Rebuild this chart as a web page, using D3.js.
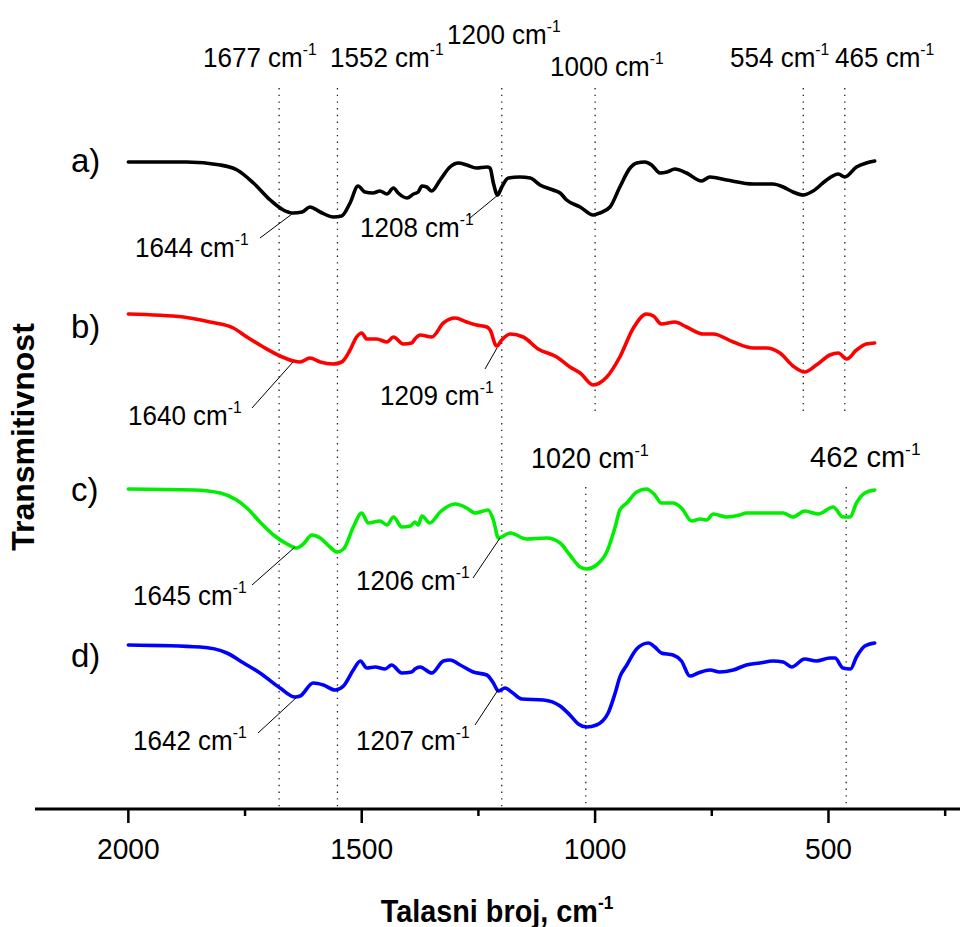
<!DOCTYPE html>
<html><head><meta charset="utf-8">
<script src="https://cdn.jsdelivr.net/npm/d3@7"></script>
<style>body{margin:0;background:#fff}svg{display:block}text{font-family:"Liberation Sans",Arial,sans-serif;fill:#000}</style>
</head><body><svg id="c" width="960" height="927"></svg>
<script>
// ---- data (wavenumber cm-1, transmittance in arbitrary offset units) ----
const waveA = [2000,1875,1803,1767,1732,1696,1668,1647,1628,1611,1589,1561,1543,1525,1508,1493,1476,1461,1446,1432,1422,1403,1389,1379,1371,1361,1350,1332,1311,1293,1275,1254,1232,1225,1218,1209,1200,1186,1161,1139,1118,1090,1075,1061,1032,1004,990,968,947,925,911,893,879,861,846,829,804,772,754,718,661,619,597,576,554,533,504,479,465,440,419,401];
const transA = [658,658,655,650,637,620,610,607,608,613,608,603,604,617,634,628,627,629,626,632,627,622,626,628,634,633,629,640,653,657,655,652,653,652,637,625,633,642,643,642,635,630,627,620,613,605,607,613,633,652,657,658,655,647,648,651,647,639,643,640,636,636,633,628,625,629,640,646,643,653,657,659];
const waveB = [2000,1882,1825,1775,1746,1711,1675,1646,1632,1611,1589,1561,1543,1525,1511,1500,1489,1468,1446,1432,1411,1393,1386,1375,1350,1325,1300,1275,1254,1232,1225,1211,1200,1182,1154,1122,1082,1054,1032,1004,975,947,918,890,875,858,829,804,768,747,704,661,633,604,576,551,526,497,479,461,440,419,401];
const transB = [506,503,498,492,483,473,464,459,458,462,458,456,458,470,483,487,481,481,478,483,476,477,481,485,483,497,502,498,495,493,490,474,480,486,483,471,463,453,447,435,443,463,492,506,504,496,498,493,486,486,478,472,472,467,454,448,455,465,467,461,470,476,477];
const waveC = [2000,1860,1803,1768,1746,1718,1689,1660,1639,1625,1607,1589,1568,1553,1539,1518,1500,1486,1461,1446,1432,1414,1396,1386,1379,1371,1354,1332,1300,1275,1257,1229,1218,1207,1182,1147,1104,1075,1054,1032,1018,997,975,957,947,932,911,890,872,858,833,815,793,775,761,747,718,690,676,640,597,576,551,522,490,469,454,440,422,401];
const transC = [331,330,327,320,312,298,285,276,272,276,285,282,273,268,271,293,307,297,299,295,303,293,294,298,295,304,297,308,316,312,307,310,300,282,287,281,282,277,265,253,251,255,268,293,310,317,328,331,325,317,317,312,299,301,300,306,303,305,307,307,307,303,309,306,313,303,303,317,327,330];
const waveD = [2000,1846,1789,1753,1718,1675,1643,1632,1604,1582,1557,1539,1518,1503,1489,1471,1450,1436,1414,1393,1386,1375,1350,1325,1311,1289,1261,1232,1218,1207,1193,1179,1157,1111,1075,1054,1036,1018,997,972,957,947,932,911,886,872,858,833,815,797,779,754,733,704,676,647,619,597,579,551,526,497,486,469,453,440,422,401];
const transD = [175,173,167,157,147,132,123,124,137,135,130,134,150,159,152,153,151,155,147,148,151,153,147,159,160,155,148,145,137,129,132,128,121,120,114,105,96,93,95,107,127,143,155,171,177,173,167,165,159,144,147,150,148,150,155,157,159,158,153,161,159,162,162,152,151,163,174,177];
const seriesNames = ["a)","b)","c)","d)"];
const seriesColors = ["#000000","#ff0000","#00ee00","#0000ff"];
const xTicksMajor = [2000,1500,1000,500];
const xTicksMinor = [1750,1250,750,250];
const topMarks = [1677,1552,1200,1000,554,465];
const lowMarks = [1020,462];
const peakA = [1644,1208], peakB = [1640,1209], peakC = [1645,1206], peakD = [1642,1207];

// ---- layout ----
const svg = d3.select("#c");
const x = d3.scaleLinear().domain([2200,200]).range([35,968.5]);
const y = d3.scaleLinear().domain([0,820]).range([820,0]);
const axisY = 809;

function supText(g, px, py, main, sup, size, sx, weight, anchor){
  const t = g.append("text").attr("transform",`translate(${px},${py}) scale(${sx},1)`)
    .attr("font-size",size).attr("font-weight",weight||"normal").attr("text-anchor",anchor||"start");
  t.append("tspan").text(main);
  if(sup) t.append("tspan").attr("font-size",size*0.6).attr("dy",-size*0.42).text(sup);
  return t;
}

// dotted marker lines
const dot = svg.append("g").attr("stroke","#222").attr("stroke-width",1.3).attr("stroke-dasharray","1.4,5.3");
const topEnds = {1677:axisY,1552:axisY,1200:axisY,1000:412,554:412,465:412};
topMarks.forEach(w=>dot.append("line").attr("x1",x(w)).attr("x2",x(w)).attr("y1",88).attr("y2",topEnds[w]));
lowMarks.forEach(w=>dot.append("line").attr("x1",x(w)).attr("x2",x(w)).attr("y1",487).attr("y2",axisY));

// curves
const waves=[waveA,waveB,waveC,waveD], trans=[transA,transB,transC,transD];
const line = d3.line().x(d=>x(d[0])).y(d=>y(d[1])).curve(d3.curveMonotoneX);
waves.forEach((w,i)=>{
  svg.append("path").datum(w.map((v,j)=>[v,trans[i][j]]))
    .attr("d",line).attr("fill","none").attr("stroke",seriesColors[i])
    .attr("stroke-width",3.6).attr("stroke-linejoin","round").attr("stroke-linecap","round");
});

// x axis
const ax = svg.append("g").attr("transform",`translate(0,${axisY})`);
ax.append("line").attr("x1",35).attr("x2",960).attr("stroke","#000").attr("stroke-width",3);
ax.selectAll(".mj").data(xTicksMajor).join("line").attr("x1",d=>x(d)).attr("x2",d=>x(d)).attr("y1",0).attr("y2",14).attr("stroke","#000").attr("stroke-width",2.5);
ax.selectAll(".mn").data(xTicksMinor).join("line").attr("x1",d=>x(d)).attr("x2",d=>x(d)).attr("y1",0).attr("y2",7).attr("stroke","#000").attr("stroke-width",2.5);
ax.selectAll(".tl").data(xTicksMajor).join("text").attr("transform",d=>`translate(${x(d)},50) scale(0.94,1)`)
  .attr("text-anchor","middle").attr("font-size",30).text(d=>d);

// axis titles
supText(svg, 497, 922, "Talasni broj, cm", "-1", 31, 0.93, "bold", "middle");
svg.append("text").attr("transform","translate(34,437) rotate(-90)").attr("text-anchor","middle")
  .attr("font-size",32).attr("font-weight","bold").text("Transmitivnost");

// series labels
const labY = [172,338,501,667];
seriesNames.forEach((s,i)=>svg.append("text").attr("x",71).attr("y",labY[i]).attr("font-size",33).text(s));

// top marker labels
const topLab = [[203,67],[330,67],[447,44],[550,76],[730,67],[835,67]];
topMarks.forEach((w,i)=>supText(svg, topLab[i][0], topLab[i][1], w+" cm", "-1", 28, 0.93));
const lowLab = [[531,468],[810,467]];
lowMarks.forEach((w,i)=>supText(svg, lowLab[i][0], lowLab[i][1], w+" cm", "-1", 29, w===462?1.0:0.93));

// peak annotations
const peaks = [peakA,peakB,peakC,peakD];
const ann = [
  [[135,257],[260,238],[292,214]], [[360,237],[470,218],[498,195]],
  [[128,425],[252,408],[293,362]], [[380,405],[485,369],[497,348]],
  [[133,605],[252,585],[295,547]], [[356,590],[473,578],[500,538]],
  [[133,750],[258,733],[297,697]], [[356,750],[475,725],[498,690]]
];
peaks.forEach((p,i)=>p.forEach((w,k)=>{
  const a = ann[i*2+k];
  supText(svg, a[0][0], a[0][1], w+" cm", "-1", 28, 0.93);
  svg.append("line").attr("x1",a[1][0]).attr("y1",a[1][1]).attr("x2",a[2][0]).attr("y2",a[2][1]).attr("stroke","#000").attr("stroke-width",1);
}));
</script></body></html>
